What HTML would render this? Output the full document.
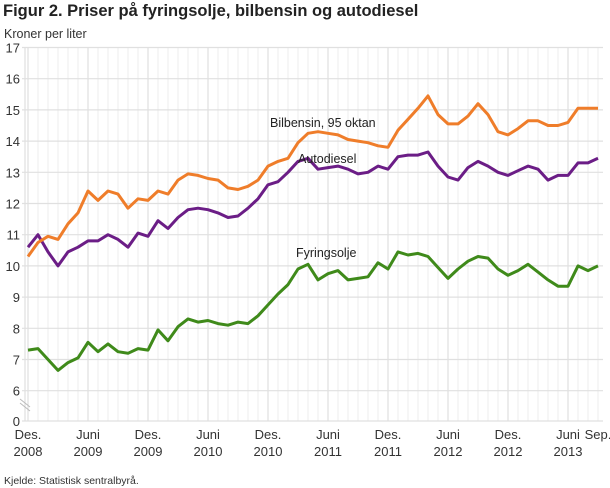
<!DOCTYPE html>
<html><head><meta charset="utf-8"><style>
body{margin:0;background:#fff;width:610px;height:488px;overflow:hidden}
svg{display:block;font-family:"Liberation Sans",sans-serif}
</style></head><body>
<svg id="s" width="610" height="488" xmlns="http://www.w3.org/2000/svg">
<text x="3" y="16" font-size="16.5" font-weight="bold" fill="#222">Figur 2. Priser på fyringsolje, bilbensin og autodiesel</text>
<text x="4" y="38" font-size="12.5" fill="#333">Kroner per liter</text>
<g id="grid"></g>
<g id="lbl" font-size="13" fill="#333"></g>
<g id="lines" fill="none" stroke-width="3" stroke-linejoin="round"></g>
<text x="270" y="127" font-size="12.5" fill="#222">Bilbensin, 95 oktan</text>
<text x="298" y="163" font-size="12.5" fill="#222">Autodiesel</text>
<text x="296" y="257" font-size="12.5" fill="#222">Fyringsolje</text>
<text x="4" y="484" font-size="10.5" fill="#333">Kjelde: Statistisk sentralbyrå.</text>
</svg>
<script>
var ns="http://www.w3.org/2000/svg";
function el(p,t,a,txt){var e=document.createElementNS(ns,t);for(var k in a)e.setAttribute(k,a[k]);if(txt!=null)e.textContent=txt;document.getElementById(p).appendChild(e);return e;}
function Y(v){return 47.5+(17-v)*31.2;}
function X(i){return 28+10*i;}
// vertical grid
for(var i=0;i<58;i++){var major=(i%6==0);el("grid","line",{x1:X(i),x2:X(i),y1:47,y2:421,stroke:major?"#d8d8d8":"#ececec","stroke-width":1});}
el("grid","line",{x1:25,x2:25,y1:47,y2:421,stroke:"#d8d8d8","stroke-width":1});
for(var v=6;v<=17;v++){el("grid","line",{x1:22,x2:603,y1:Y(v),y2:Y(v),stroke:"#e0e0e0","stroke-width":1.2});el("lbl","text",{x:20,y:Y(v)+5,"text-anchor":"end"},v);}
el("grid","line",{x1:22,x2:603,y1:421,y2:421,stroke:"#e0e0e0","stroke-width":1.2});
el("lbl","text",{x:20,y:426,"text-anchor":"end"},0);
el("grid","line",{x1:20,x2:30,y1:399,y2:407,stroke:"#bbb","stroke-width":1});
el("grid","line",{x1:20,x2:30,y1:403,y2:411,stroke:"#bbb","stroke-width":1});
var labs=[[0,"Des.","2008"],[6,"Juni","2009"],[12,"Des.","2009"],[18,"Juni","2010"],[24,"Des.","2010"],[30,"Juni","2011"],[36,"Des.","2011"],[42,"Juni","2012"],[48,"Des.","2012"],[54,"Juni","2013"]];
labs.forEach(function(l){el("lbl","text",{x:X(l[0]),y:439,"text-anchor":"middle"},l[1]);el("lbl","text",{x:X(l[0]),y:456,"text-anchor":"middle"},l[2]);});
el("lbl","text",{x:X(57),y:439,"text-anchor":"middle"},"Sep.");
var bb=[10.3,10.75,10.95,10.85,11.35,11.7,12.4,12.1,12.4,12.3,11.85,12.15,12.1,12.4,12.3,12.75,12.95,12.9,12.8,12.75,12.5,12.45,12.55,12.75,13.2,13.35,13.45,13.95,14.25,14.3,14.25,14.2,14.05,14.0,13.95,13.85,13.8,14.35,14.7,15.05,15.45,14.85,14.55,14.55,14.8,15.2,14.85,14.3,14.2,14.4,14.65,14.65,14.5,14.5,14.6,15.05,15.05,15.05];
var ad=[10.6,11.0,10.45,10.0,10.45,10.6,10.8,10.8,11.0,10.85,10.6,11.05,10.95,11.45,11.2,11.55,11.8,11.85,11.8,11.7,11.55,11.6,11.85,12.15,12.6,12.7,13.0,13.35,13.45,13.1,13.15,13.2,13.1,12.95,13.0,13.2,13.1,13.5,13.55,13.55,13.65,13.2,12.85,12.75,13.15,13.35,13.2,13.0,12.9,13.05,13.2,13.1,12.75,12.9,12.9,13.3,13.3,13.45];
var fy=[7.3,7.35,7.0,6.65,6.9,7.05,7.55,7.25,7.5,7.25,7.2,7.35,7.3,7.95,7.6,8.05,8.3,8.2,8.25,8.15,8.1,8.2,8.15,8.4,8.75,9.1,9.4,9.9,10.05,9.55,9.75,9.85,9.55,9.6,9.65,10.1,9.9,10.45,10.35,10.4,10.3,9.95,9.6,9.9,10.15,10.3,10.25,9.9,9.7,9.85,10.05,9.8,9.55,9.35,9.35,10.0,9.85,10.0];
function line(d,c){el("lines","polyline",{points:d.map(function(v,i){return X(i)+","+Y(v).toFixed(1);}).join(" "),stroke:c});}
line(fy,"#3f8a1a");line(ad,"#6b1d86");line(bb,"#ef7d2a");
</script>
</body></html>
